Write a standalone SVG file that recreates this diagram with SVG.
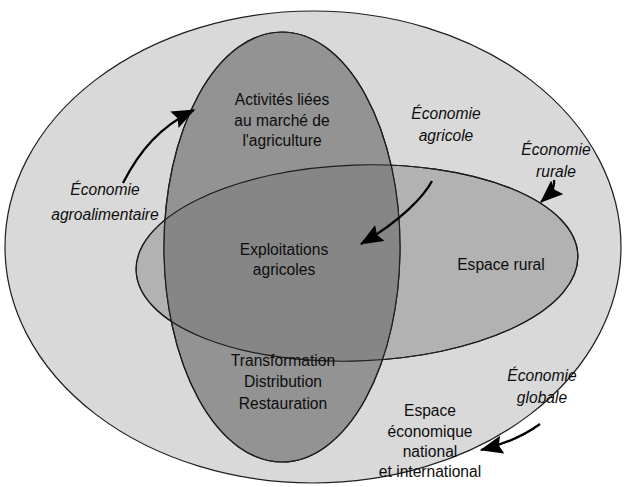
<svg xmlns="http://www.w3.org/2000/svg" width="628" height="487" viewBox="0 0 628 487">
  <style>
    .shape { stroke: #1e1e1e; stroke-width: 1.2; }
    .lbl { font-family: "Liberation Sans", Arial, sans-serif; font-size: 15.6px; fill: #0d0d0d; text-anchor: middle; }
    .it { font-style: italic; }
    .arr { fill: none; stroke: #000; stroke-width: 2.3; }
  </style>
  <defs>
    <marker id="head" viewBox="0 0 10 8" refX="9.5" refY="4" markerWidth="10" markerHeight="8" orient="auto" markerUnits="strokeWidth">
      <path d="M0,0 L10,4 L0,8 L1.5,4 Z" fill="#000"/>
    </marker>
    <clipPath id="clipH">
      <ellipse cx="357" cy="263" rx="221" ry="98" transform="rotate(-2 357 263)"/>
    </clipPath>
  </defs>

  <rect width="628" height="487" fill="#ffffff"/>

  <g id="outer">
    <ellipse class="shape" cx="313" cy="247" rx="308" ry="236" fill="#d9d9d9"/>
  </g>

  <g id="rural">
    <ellipse class="shape" cx="357" cy="263" rx="221" ry="98" transform="rotate(-2 357 263)" fill="#b2b2b2"/>
  </g>

  <g id="agri">
    <ellipse class="shape" cx="282" cy="247" rx="118" ry="215" fill="#939393"/>
  </g>

  <g id="core">
    <ellipse cx="282" cy="247" rx="118" ry="215" fill="#868686" clip-path="url(#clipH)"/>
    <ellipse class="shape" cx="357" cy="263" rx="221" ry="98" transform="rotate(-2 357 263)" fill="none"/>
    <ellipse class="shape" cx="282" cy="247" rx="118" ry="215" fill="none"/>
  </g>

  <g id="connectors">
    <path class="arr" d="M123,183 C140,150 160,127 194,110" marker-end="url(#head)"/>
    <path class="arr" d="M432,181 C424,196 402,220 361,244" marker-end="url(#head)"/>
    <path class="arr" d="M554,180 C555,188 551,193 541,202" marker-end="url(#head)"/>
    <path class="arr" d="M540,424 C525,435 505,444 481,450" marker-end="url(#head)"/>
  </g>

  <g id="labels">
    <text class="lbl"><tspan x="282" y="105">Activités liées</tspan><tspan x="282" y="126">au marché de</tspan><tspan x="282" y="146">l'agriculture</tspan></text>
    <text class="lbl it"><tspan x="446" y="119">Économie</tspan><tspan x="446" y="141">agricole</tspan></text>
    <text class="lbl it"><tspan x="556" y="155">Économie</tspan><tspan x="556" y="177">rurale</tspan></text>
    <text class="lbl it"><tspan x="105" y="195">Économie</tspan><tspan x="105" y="220">agroalimentaire</tspan></text>
    <text class="lbl"><tspan x="284" y="255">Exploitations</tspan><tspan x="284" y="275">agricoles</tspan></text>
    <text class="lbl" x="501" y="270">Espace rural</text>
    <text class="lbl"><tspan x="283" y="366">Transformation</tspan><tspan x="283" y="387">Distribution</tspan><tspan x="283" y="409">Restauration</tspan></text>
    <text class="lbl it"><tspan x="542" y="381">Économie</tspan><tspan x="542" y="403">globale</tspan></text>
    <text class="lbl"><tspan x="430" y="416">Espace</tspan><tspan x="430" y="437">économique</tspan><tspan x="430" y="457">national</tspan><tspan x="430" y="477">et international</tspan></text>
  </g>
</svg>
